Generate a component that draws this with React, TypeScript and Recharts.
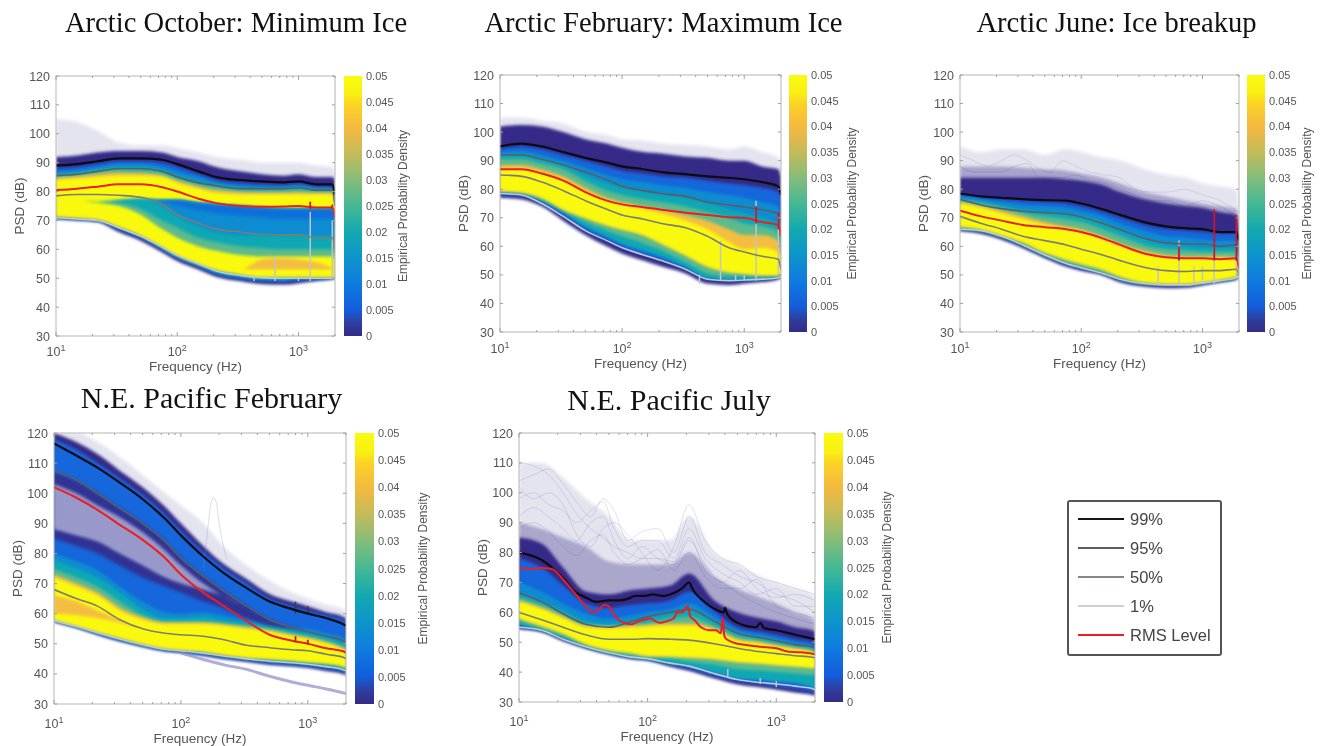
import React from 'react';
import { Area, Bar, BarChart, ComposedChart, Line, ReferenceLine, XAxis, YAxis } from 'recharts';

// shared axis data
const freqGrid = [10, 15, 22, 33, 50, 75, 100, 150, 210, 330, 500, 750, 1000, 1400, 1900, 2000];
const xTicks = [10, 20, 30, 40, 50, 60, 70, 80, 90, 100, 200, 300, 400, 500, 600, 700, 800, 900, 1000, 2000];
const decadeTicks = [10, 100, 1000];
const psdTicks = [30, 40, 50, 60, 70, 80, 90, 100, 110, 120];
const densityTicks = [0, 0.005, 0.01, 0.015, 0.02, 0.025, 0.03, 0.035, 0.04, 0.045, 0.05];
const legendLabels = ['99%', '95%', '50%', '1%', 'RMS Level'];
const legendColors = ['#151515', '#5a5d60', '#85888a', '#cfd0d0', '#ee1c25'];
const traceFreq = [10, 13, 17, 22, 28, 36, 45, 55, 70, 90, 120, 160, 210, 280, 380, 520, 700, 1000, 1400, 2000];

// Arctic October
const octSparseTop = [105, 104, 101, 97, 96, 96, 95, 93.5, 92, 91, 90, 90, 90, 89, 88.5, 87];
const octNavyTop = [92, 92.5, 93.5, 94, 94, 93.5, 92, 90.5, 88.5, 87, 86, 85.5, 86, 85, 85, 84];
const octBlueTop = [88, 88.5, 89.5, 90.5, 90.5, 90, 88.5, 86, 84, 83, 82.5, 82.3, 82.7, 81.7, 81.7, 78];
const octMidTop = [87, 87.5, 88.5, 89.5, 89.5, 88.5, 87, 85, 83.2, 82, 81.7, 81.7, 82, 81.2, 81, 77];
const octCyanTop = [86, 86.5, 87.5, 88.5, 88.5, 87.5, 85.5, 83.5, 82.3, 81.3, 81, 81, 81.3, 80.5, 80.5, 76];
const octGreenTop = [85.5, 86, 87, 87.5, 87.3, 86.5, 84.5, 82.5, 81.5, 80.5, 80.3, 80.3, 80.5, 80, 80, 75.5];
const octOrangeTop = [84.7, 85.2, 86, 86.5, 86.3, 85.5, 83.7, 81.7, 80.5, 79.8, 79.6, 79.6, 79.8, 79.5, 79.5, 75.2];
const octYellowTop = [84, 84.5, 85, 85.5, 85.5, 85, 83, 81, 79.5, 79, 79, 79, 79, 79, 79, 75];
const octNavyLow = [70.5, 70, 69.5, 66, 63, 59, 56, 53, 50.5, 49, 48, 47.8, 48.3, 49, 49.7, 50];
const octBlueLow = [71, 70.5, 70, 67, 64, 60, 57, 54, 51.5, 50, 49, 48.8, 49.2, 49.7, 50, 50];
const octTealLow = [71.2, 70.7, 70.2, 67.5, 64.5, 60.5, 57.5, 54.5, 52, 50.5, 49.7, 49.5, 50, 50, 50.2, 50.2];
const octYellowLow = [71.5, 71, 70.5, 68, 65, 61, 58, 55, 53, 51.5, 50.5, 50.5, 50.5, 50.5, 50.5, 50.2];
const octHoleTop = [77, 77, 76.5, 77, 77.5, 77, 77, 76, 75.5, 75, 74.5, 74, 74, 74, 74, 71];
const octGreenHoleLow = [77, 77, 76, 75, 72, 67, 64, 61, 59.5, 58, 57.5, 57.5, 57.5, 57.5, 57.5, 56];
const octCyanHoleLow = [77, 77, 76.5, 76, 74, 70, 67.5, 64, 62.5, 61, 60.5, 60, 60, 60, 60, 58];
const octMidHoleLow = [77, 77, 76.5, 77, 77.5, 75, 71.5, 68, 66, 65, 65, 65, 65, 64.5, 64.5, 62];
const octBlueHoleLow = [77, 77, 76.5, 77, 77.5, 76.5, 75, 73.5, 72.5, 71.5, 71, 70.5, 70.5, 70.5, 70.5, 67];
const octOrangeHoleLow = [53, 53, 53, 53, 53, 53, 53, 53, 53, 53, 53, 53, 53, 53, 53, 53];
const octOrangeHoleTop = [53, 53, 53, 53, 53, 53, 53, 53, 53, 53, 56.5, 57, 56.5, 55.5, 53.5, 53];
const oct99 = [89, 89.5, 90.5, 91.5, 91.5, 91, 89.5, 87, 85, 84, 83.5, 83.2, 83.5, 82.5, 82.5, 79];
const oct95 = [85.5, 86, 87, 88, 88, 87, 85, 83, 82, 81, 81, 81, 81.3, 80.5, 80.5, 75];
const oct50 = [78.5, 79, 79, 78.7, 78, 75.5, 72, 69, 67, 66, 65.2, 65, 65, 64, 64, 60];
const oct01 = [71, 70.5, 70, 67.5, 64.5, 60.8, 58, 55, 52.5, 51, 50.2, 50, 50, 50, 50, 50];
const octRms = [80.5, 81, 81.7, 82.5, 82.5, 81.5, 80, 77.5, 76, 75, 74.7, 74.8, 75, 74.5, 74.5, 71];
const octSpikeFreq = [430, 640, 1000, 1250, 1900];
const octSpikeLow = [49, 49, 49, 49, 50];
const octSpikeHigh = [51, 57, 51, 73, 70];
const octRedFreq = [1250, 1900];
const octRedLow = [74, 74];
const octRedHigh = [76.5, 75.5];

// Arctic February
const febSparseTop = [105, 105, 104, 103, 100, 99, 97.5, 97, 96, 95.5, 95, 94, 95, 93, 91, 88];
const febNavyTop = [102, 102.5, 102, 100, 97.5, 96, 94.5, 93, 92.5, 91.5, 91, 90, 90, 88, 87, 84];
const febBlueTop = [94, 95, 94, 92, 90, 88, 86.5, 85.5, 84.5, 84, 83, 82, 81.5, 80.5, 79, 76];
const febMidTop = [93, 93.5, 92, 90, 87.5, 85, 83.5, 82.5, 81.5, 80.5, 79, 78, 77, 75.5, 74, 70];
const febCyanTop = [92, 92, 90.5, 88.5, 85, 82, 80.5, 79, 78, 77, 75, 73, 71.5, 70, 68, 64];
const febGreenTop = [90.5, 90.5, 89, 87, 83, 79.5, 78, 76.5, 75.5, 74, 72, 70, 68, 67, 65, 61];
const febOrangeTop = [88.5, 88.5, 87, 84.5, 80.5, 77, 75.5, 74, 73, 71, 69, 66, 64, 64, 62, 58];
const febYellowTop = [87, 87, 85.5, 83, 79, 76, 74.5, 73, 71.5, 69, 66, 61.5, 59, 59.5, 58, 55];
const febNavyLow = [77, 76.5, 74, 69, 64, 60, 57.5, 55, 53, 50.5, 47, 46.5, 47, 47.5, 48.5, 49];
const febBlueLow = [78, 77.5, 75, 70.5, 65.5, 62, 59.5, 57, 55, 52, 48.5, 48, 48.2, 48.5, 49, 49.5];
const febTealLow = [79, 78.5, 76, 72, 67, 63.5, 61, 58.5, 56.5, 53, 49, 48.5, 48.5, 48.7, 49.2, 49.7];
const febGreenLow = [79.2, 78.7, 76.5, 72.5, 68.5, 65.5, 63.5, 61, 58.5, 54.5, 50.5, 49.5, 49.5, 49.5, 49.7, 49.8];
const febYellowLow = [79.5, 79, 77, 73, 70, 67.5, 66, 64, 61, 57, 53, 51, 50.5, 50, 50, 50];
const feb99 = [95, 96, 95, 93, 91, 89.3, 88, 87, 86, 85.3, 84.5, 84, 83.5, 82.5, 81, 78];
const feb95 = [92, 92, 90.5, 88.5, 86, 83.3, 81, 79.5, 78.5, 77.5, 75.5, 74.5, 73.8, 72.8, 71.3, 68];
const feb50 = [85, 84.5, 82.5, 79.5, 76, 73, 71, 69.5, 68, 66.5, 63.5, 59.5, 58, 56.5, 55.5, 52];
const feb01 = [78.5, 78, 75, 70.5, 65.5, 62, 59.5, 57, 55, 52, 48.5, 48, 48.2, 48.5, 49, 49.5];
const febRms = [87, 87, 85.5, 83, 79, 76, 74.7, 73.7, 72.8, 71.8, 71, 70.2, 70, 68.5, 67.5, 63.5];
const febSpikeFreq = [430, 640, 850, 1000, 1250, 1900];
const febSpikeLow = [47, 48, 48, 48, 48, 50];
const febSpikeHigh = [50, 62, 50, 50, 76, 72];
const febRedFreq = [1250, 1900];
const febRedLow = [68, 66];
const febRedHigh = [74, 72];

// Arctic June
const junSparseTop = [95, 93, 94, 94, 92, 94, 93, 91, 90, 87, 85, 84, 82, 81, 80, 74];
const junDenseTop = [88, 88, 88, 87.5, 87, 86.5, 85.5, 84, 82, 79, 77.5, 76, 75, 74, 73, 68];
const junNavyTop = [84, 84, 84, 84, 84, 83.5, 83, 81.5, 79, 76.5, 75, 74, 73.5, 72, 71, 66];
const junBlueTop = [78, 77, 76.5, 76, 75.5, 75, 74, 72, 70, 67.5, 66, 65.5, 65, 64.5, 64.5, 61];
const junMidTop = [77.5, 76.5, 75.5, 74.5, 74, 73.5, 72.5, 70.5, 68, 65.5, 63.5, 63, 62.5, 62, 62, 58.5];
const junCyanTop = [76.5, 75.8, 74.3, 72.8, 72, 71.3, 70.5, 68.5, 65.5, 62.5, 60.5, 60, 59.5, 59.5, 59.5, 55];
const junGreenTop = [76, 75, 73.5, 71.8, 70.5, 69.5, 68.5, 66, 63.5, 60.5, 59, 58.5, 58, 58, 58, 54];
const junOrangeTop = [75.5, 74, 72.5, 70.5, 68.5, 67, 66, 63.5, 61, 58.5, 57, 56.5, 56.5, 56.5, 56, 52.5];
const junYellowTop = [75, 73.5, 71.5, 69.5, 67.5, 66, 65, 62.5, 60, 57.5, 56, 55.5, 55.5, 55.5, 55.5, 52];
const junNavyLow = [65.5, 64.5, 62.5, 59.5, 56, 53, 51.5, 50, 47.5, 46, 45.5, 45.7, 46.5, 47.5, 48.5, 49.5];
const junBlueLow = [66, 65.3, 63.3, 60.3, 56.8, 53.8, 52.3, 50.5, 48.3, 46.8, 46.3, 46.3, 47, 47.8, 48.8, 49.5];
const junTealLow = [66.2, 65.5, 63.6, 60.6, 57, 54.2, 52.7, 50.8, 48.5, 47, 46.7, 46.7, 47.2, 48, 49, 49.5];
const junYellowLow = [67, 66, 64, 61.5, 58, 55.5, 54, 52, 49.5, 47.5, 47, 47, 47.5, 48.5, 49.5, 50];
const jun99 = [78.5, 77.5, 77, 76.5, 76.2, 76, 75, 73, 71, 68.5, 67, 66.3, 66, 65, 65, 62];
const jun95 = [76.5, 74.5, 73.2, 72.3, 71.8, 71.3, 70.3, 68, 65.8, 62.8, 61.2, 60.8, 60.8, 60, 60.5, 57];
const jun50 = [70.5, 68, 66, 63.5, 62, 60.5, 59, 57, 55, 52.7, 51.5, 51.2, 51.5, 51.5, 52, 50];
const jun01 = [66, 65.5, 63.5, 60.5, 57, 54, 52.5, 50.5, 48.5, 47, 46.5, 46.5, 47.2, 48, 49, 49.5];
const junRms = [72.5, 70.5, 69, 67.5, 66.7, 66, 65, 62.8, 60.5, 57.5, 56.2, 55.8, 55.8, 55.5, 55.8, 52];
const junSpikeFreq = [430, 640, 850, 1000, 1250, 1900];
const junSpikeLow = [47, 47, 47, 48, 47, 50];
const junSpikeHigh = [53, 62, 53, 53, 60, 62];
const junRedFreq = [640, 1250, 1900];
const junRedLow = [55, 55, 55];
const junRedHigh = [60, 73, 71];
const junTraceA = [92, 90, 88, 90, 92, 90, 87, 86, 90, 88, 86, 85, 84, 80, 79, 79, 80, 78, 76, 72];
const junTraceB = [88, 86, 86, 86, 88, 89, 84, 84, 84, 85, 83, 82, 80, 78, 76, 76, 74, 76, 74, 70];

// N.E. Pacific February
const pacFebSparseTop = [120, 120, 117, 112, 106, 100, 96, 90, 83, 76, 71, 67, 65, 63, 61.5, 60];
const pacFebNavyTop = [120, 117, 113, 107.5, 102, 95.5, 90, 82.5, 77, 71.5, 66.5, 64, 62.5, 60.5, 59, 58.5];
const pacFebBlueTop = [118, 114.5, 110, 105, 99.5, 93, 87.5, 80.5, 75.5, 70, 65, 62.5, 61, 59.5, 58, 57];
const pacFebMidTop = [80, 77.5, 74.5, 69, 64, 60.5, 60, 60.5, 59.5, 58, 57, 55.5, 55, 53.5, 52, 51];
const pacFebCyanTop = [78, 75, 72, 67, 61.5, 58.5, 58.5, 59, 58, 57, 56, 54.5, 53.5, 52, 50, 49.5];
const pacFebGreenTop = [75, 72, 69, 64, 59.5, 57.5, 57.5, 57.5, 57, 56, 55, 53.5, 52.5, 51, 49, 48.5];
const pacFebOrangeTop = [73, 70, 67, 62, 58.8, 57, 57, 57, 56.5, 55.5, 54.5, 53, 52, 50.5, 48.5, 48];
const pacFebYellowTop = [72, 69, 66, 61, 58, 56.5, 56.5, 56.5, 56, 55, 54, 52.5, 51.5, 50, 48, 47.5];
const pacFebNavyLow = [57.3, 55.3, 53, 50.8, 49, 47.5, 47, 46, 45, 44, 43, 42.5, 42, 41, 40, 39.5];
const pacFebBlueLow = [57.5, 55.5, 53.3, 51.2, 49.3, 47.8, 47.3, 46.4, 45.5, 44.5, 43.6, 43, 42.6, 41.7, 40.7, 40.2];
const pacFebTealLow = [57.7, 55.8, 53.7, 51.6, 49.7, 48.2, 47.7, 46.9, 46, 45, 44.2, 43.7, 43.2, 42.4, 41.4, 41];
const pacFebYellowLow = [58, 56, 54, 52, 50, 48.5, 48, 47.5, 46.5, 45.5, 45, 44.5, 44, 43.5, 42.5, 42];
const pacFebPatchLow = [85, 82.5, 80, 76, 72, 69, 67, 64, 62, 58.5, 56, 55, 54, 52.5, 51, 50.5];
const pacFebPatchTop = [107, 104, 100, 95, 90, 84, 78.5, 72.5, 68, 62.5, 58, 55.5, 54, 52.5, 51, 50.5];
const pacFebSpeckleLow = [88, 86, 84, 80, 76, 72, 70, 68, 66, 62, 58, 56, 54, 52.5, 51, 50.5];
const pacFebSpeckleTop = [103, 100, 96, 92, 87, 81, 76, 70, 66, 62, 58, 56, 54, 52.5, 51, 50.5];
const pacFebOrangePatchLow = [60, 59.5, 58.5, 57, 55, 55, 55, 55, 55, 55, 55, 55, 55, 55, 55, 55];
const pacFebOrangePatchTop = [66, 64, 61, 58, 55, 55, 55, 55, 55, 55, 55, 55, 55, 55, 55, 55];
const pacFeb99 = [116.5, 112.5, 108.5, 103.5, 98, 91.5, 86, 79, 74, 68.5, 64, 61.5, 60, 58.5, 56.5, 56];
const pacFeb95 = [107.5, 104.5, 100, 95, 90, 84, 78.5, 72.5, 68, 62.5, 58, 55.5, 54, 52.5, 51, 50.5];
const pacFeb50 = [68, 65, 62.5, 58, 55, 53.5, 53, 52.5, 51.5, 49.5, 48.7, 48, 47.7, 46.5, 45.5, 45];
const pacFeb01 = [57.7, 55.8, 53.7, 51.6, 49.7, 48.2, 47.7, 46.9, 46, 45, 44.2, 43.7, 43.2, 42.4, 41.4, 41];
const pacFebRms = [102, 98.5, 94.5, 89.5, 84.5, 78.5, 73, 67, 63, 57.5, 53, 51, 50, 48.5, 47.5, 47];
const pacFebTrailFreq = [100, 150, 220, 330, 500, 750, 1000, 1400, 2000];
const pacFebTrail = [47, 44.8, 43, 41.5, 39.2, 37.3, 36.2, 35, 33.5];
const pacFebArcFreq = [150, 160, 170, 180, 190, 200, 210, 230];
const pacFebArc = [75, 85, 95, 98.5, 97, 90, 85, 78];
const pacFebSpikeFreq = [800, 1000];
const pacFebSpikeLow = [60, 60];
const pacFebSpikeHigh = [64, 62.5];
const pacFebRedFreq = [800, 1000];
const pacFebRedLow = [50.5, 49.8];
const pacFebRedHigh = [52.5, 51.3];

// N.E. Pacific July
const pacJulSparseTop = [110, 110, 105, 98, 92, 84, 84, 84, 92, 80, 76, 72, 70, 68, 66, 65];
const pacJulDenseTop = [90, 88, 85, 82, 77, 76, 76, 76, 80, 72, 68, 65, 63, 60, 58, 57];
const pacJulNavyTop = [85, 83, 75, 67, 66, 67.5, 68, 69, 73, 64, 60, 58, 57, 55, 54, 53.5];
const pacJulBlueTop = [78, 75, 69, 63, 61.5, 62.5, 63, 64, 67, 60.5, 55, 53.5, 52.5, 51, 50, 49.5];
const pacJulMidTop = [70, 67, 63, 59.5, 58, 59, 60, 61, 63, 58.5, 54, 52.5, 51.5, 50, 49, 48.5];
const pacJulCyanTop = [66, 63.5, 60.5, 57, 56, 57, 58, 59.5, 61, 57, 53, 51.5, 50.5, 49, 48, 47.5];
const pacJulGreenTop = [65, 62.5, 59.5, 56, 55.5, 56, 56.5, 58, 58.5, 55.5, 52, 50.5, 49.5, 48.2, 47.5, 47];
const pacJulOrangeTop = [64, 61.5, 58.5, 55.5, 55, 55.5, 55.8, 56.3, 56.3, 54.7, 51, 50, 49, 48, 47, 46.5];
const pacJulYellowTop = [63.5, 61, 58, 55, 54.5, 55, 55.3, 55.5, 55.5, 54, 50.5, 49.5, 48.5, 47.5, 46.5, 46];
const pacJulNavyLow = [54.5, 53.5, 50.5, 48, 46, 44.5, 44, 42, 40.5, 38, 36, 35, 34.3, 33.3, 32.5, 32];
const pacJulBlueLow = [54.8, 53.8, 51, 48.4, 46.3, 44.8, 44.2, 42.6, 41.3, 38.8, 37, 36, 35.2, 34.4, 33.5, 33];
const pacJulTealLow = [56, 54, 51.5, 48.5, 46.5, 45, 44.5, 43, 42, 40, 38, 37.5, 37, 36.5, 35, 34.5];
const pacJulGreenLow = [57, 54.5, 52, 49, 47, 45.5, 45, 44.5, 43.5, 42.5, 41, 40.5, 40, 39.5, 39, 39];
const pacJulYellowLow = [58, 55.5, 53, 49.5, 47.5, 46.5, 45.5, 45.3, 45, 44.5, 43.5, 43, 42.5, 42, 41.5, 41.2];
const pacJul99Freq = [10, 15, 18, 22, 27, 33, 40, 50, 60, 70, 80, 95, 110, 130, 160, 185, 210, 225, 260, 320, 390, 400, 415, 500, 700, 750, 800, 1000, 1400, 2000];
const pacJul99 = [80, 77.5, 75, 71.5, 67, 65, 63.5, 64, 64, 64.5, 65.5, 65.5, 66, 65.5, 66.5, 68, 70, 67.5, 64.5, 61.5, 60, 61.5, 59.5, 56.5, 55, 56.5, 54.8, 54, 52.5, 51];
const pacJul95 = [66.5, 63.5, 59.5, 56, 55, 57, 58.5, 60, 61, 57, 53, 51.5, 50.5, 49.2, 48.5, 48];
const pacJul50 = [60, 57.5, 55, 52.5, 51, 51, 51.2, 51, 50.7, 49.5, 48, 46.8, 46.2, 45.5, 45, 44.8];
const pacJul01 = [55, 54, 51, 48.5, 46.5, 45, 44.5, 43, 42, 39.5, 37.5, 36.5, 36, 35.3, 34.5, 34];
const pacJulRmsFreq = [10, 12, 15, 18, 22, 27, 33, 37, 42, 46, 50, 55, 62, 75, 85, 95, 105, 115, 125, 140, 160, 170, 185, 205, 215, 230, 260, 300, 340, 370, 385, 392, 400, 430, 500, 600, 750, 1000, 1200, 1400, 1700, 2000];
const pacJulRms = [75, 74.5, 74.8, 74.5, 71, 66.5, 62, 60, 61, 62.5, 62, 59, 57, 56, 57, 57.5, 58, 57, 56.5, 57, 58, 60, 60, 62, 58.5, 57.5, 55, 54, 54, 53, 58, 53, 51.5, 50.5, 49.5, 49, 48.5, 48, 47, 46.7, 46.5, 46];
const pacJulSpikeFreq = [420, 750, 1000];
const pacJulSpikeLow = [38, 36, 35];
const pacJulSpikeHigh = [41, 38, 37];
const pacJulTraceA = [110, 109, 106, 100, 93, 88, 85, 82, 80, 78, 78, 77, 85, 74, 70, 66, 63, 60, 58, 56];
const pacJulTraceB = [104, 106, 108, 103, 97, 92, 98, 94, 84, 87, 88, 80, 92, 80, 76, 72, 70, 66, 64, 60];
const pacJulTraceC = [98, 100, 96, 94, 90, 94, 97, 88, 82, 84, 84, 78, 88, 78, 73, 70, 66, 68, 62, 62];
const pacJulTraceD = [92, 95, 92, 88, 84, 90, 92, 84, 78, 82, 78, 76, 84, 76, 70, 74, 68, 65, 66, 64];
const pacJulTraceE = [88, 90, 87, 82, 79, 84, 86, 80, 76, 78, 81, 74, 80, 72, 68, 68, 71, 62, 60, 58];
const pacJulTraceF = [102, 98, 100, 96, 86, 82, 88, 90, 86, 80, 74, 82, 96, 84, 78, 76, 72, 70, 68, 66];

const NAVY = '#352a87';
const BLUE = '#1366dc';
const MID = '#0d8cd2';
const CYAN = '#10a8b4';
const GREEN = '#5cba8c';
const ORANGE = '#f4bd42';
const YELLOW = '#f9f90e';

type Band = { lo: number[]; hi: number[]; fill: string; opacity?: number };

const rows = (freq: number[], values: number[]) => freq.map((f, i) => ({ f, v: values[i] }));
const rangeRows = (lo: number[], hi: number[]) => freqGrid.map((f, i) => ({ f, v: [lo[i], hi[i]] }));

// nested colour bands, painted from the outer envelope inwards
const stack = (
  sparse: number[], navy: number[], blue: number[], mid: number[], cyan: number[], green: number[], orange: number[], yellow: number[],
  navyLow: number[], blueLow: number[], tealLow: number[], greenLow: number[], yellowLow: number[],
): Band[] => [
  { lo: navyLow, hi: sparse, fill: NAVY, opacity: 0.13 },
  { lo: navyLow, hi: navy, fill: NAVY },
  { lo: blueLow, hi: blue, fill: BLUE },
  { lo: tealLow, hi: mid, fill: MID },
  { lo: tealLow, hi: cyan, fill: CYAN },
  { lo: greenLow, hi: green, fill: GREEN },
  { lo: yellowLow, hi: orange, fill: ORANGE },
  { lo: yellowLow, hi: yellow, fill: YELLOW },
];

const panels = [
  {
    title: 'Arctic October: Minimum Ice', titleX: 236, titleY: 23, titleSize: 28.6, tickDy: 20,
    left: 56, right: 335, top: 76, bottom: 336, cbLeft: 344, cbRight: 362, xLabelDy: 30, cbLabelDx: 59,
    bands: [
      ...stack(octSparseTop, octNavyTop, octBlueTop, octMidTop, octCyanTop, octGreenTop, octOrangeTop, octYellowTop, octNavyLow, octBlueLow, octTealLow, octYellowLow, octYellowLow),
      { lo: octGreenHoleLow, hi: octHoleTop, fill: GREEN },
      { lo: octCyanHoleLow, hi: octHoleTop, fill: CYAN },
      { lo: octMidHoleLow, hi: octHoleTop, fill: MID },
      { lo: octBlueHoleLow, hi: octHoleTop, fill: BLUE, opacity: 0.75 },
      { lo: octOrangeHoleLow, hi: octOrangeHoleTop, fill: ORANGE },
    ] as Band[],
    p99: rows(freqGrid, oct99), p95: rows(freqGrid, oct95), p50: rows(freqGrid, oct50), p01: rows(freqGrid, oct01), rms: rows(freqGrid, octRms),
    spikes: { freq: octSpikeFreq, low: octSpikeLow, high: octSpikeHigh }, red: { freq: octRedFreq, low: octRedLow, high: octRedHigh },
    traces: [],
  },
  {
    title: 'Arctic February: Maximum Ice', titleX: 663.5, titleY: 23, titleSize: 28.6, tickDy: 21,
    left: 500, right: 781, top: 75, bottom: 332, cbLeft: 789, cbRight: 807, xLabelDy: 31, cbLabelDx: 63,
    bands: stack(febSparseTop, febNavyTop, febBlueTop, febMidTop, febCyanTop, febGreenTop, febOrangeTop, febYellowTop, febNavyLow, febBlueLow, febTealLow, febGreenLow, febYellowLow),
    p99: rows(freqGrid, feb99), p95: rows(freqGrid, feb95), p50: rows(freqGrid, feb50), p01: rows(freqGrid, feb01), rms: rows(freqGrid, febRms),
    spikes: { freq: febSpikeFreq, low: febSpikeLow, high: febSpikeHigh }, red: { freq: febRedFreq, low: febRedLow, high: febRedHigh },
    traces: [],
  },
  {
    title: 'Arctic June: Ice breakup', titleX: 1116.5, titleY: 23, titleSize: 28.6, tickDy: 21,
    left: 960, right: 1239, top: 75, bottom: 332, cbLeft: 1247, cbRight: 1265, xLabelDy: 31, cbLabelDx: 60,
    bands: [
      { lo: junNavyLow, hi: junDenseTop, fill: NAVY, opacity: 0.35 },
      ...stack(junSparseTop, junNavyTop, junBlueTop, junMidTop, junCyanTop, junGreenTop, junOrangeTop, junYellowTop, junNavyLow, junBlueLow, junTealLow, junTealLow, junYellowLow),
    ] as Band[],
    p99: rows(freqGrid, jun99), p95: rows(freqGrid, jun95), p50: rows(freqGrid, jun50), p01: rows(freqGrid, jun01), rms: rows(freqGrid, junRms),
    spikes: { freq: junSpikeFreq, low: junSpikeLow, high: junSpikeHigh }, red: { freq: junRedFreq, low: junRedLow, high: junRedHigh },
    traces: [
      { data: rows(traceFreq, junTraceA), stroke: NAVY, opacity: 0.12, width: 1 },
      { data: rows(traceFreq, junTraceB), stroke: NAVY, opacity: 0.15, width: 1 },
    ],
  },
  {
    title: 'N.E. Pacific February', titleX: 211.5, titleY: 398, titleSize: 30, tickDy: 24,
    left: 54, right: 346, top: 433, bottom: 704, cbLeft: 355, cbRight: 374, xLabelDy: 34, cbLabelDx: 68,
    bands: [
      ...stack(pacFebSparseTop, pacFebNavyTop, pacFebBlueTop, pacFebMidTop, pacFebCyanTop, pacFebGreenTop, pacFebOrangeTop, pacFebYellowTop, pacFebNavyLow, pacFebBlueLow, pacFebTealLow, pacFebYellowLow, pacFebYellowLow),
      { lo: pacFebPatchLow, hi: pacFebPatchTop, fill: NAVY, opacity: 0.85 },
      { lo: pacFebSpeckleLow, hi: pacFebSpeckleTop, fill: '#ffffff', opacity: 0.5 },
      { lo: pacFebOrangePatchLow, hi: pacFebOrangePatchTop, fill: ORANGE },
    ] as Band[],
    p99: rows(freqGrid, pacFeb99), p95: rows(freqGrid, pacFeb95), p50: rows(freqGrid, pacFeb50), p01: rows(freqGrid, pacFeb01), rms: rows(freqGrid, pacFebRms),
    spikes: { freq: pacFebSpikeFreq, low: pacFebSpikeLow, high: pacFebSpikeHigh }, red: { freq: pacFebRedFreq, low: pacFebRedLow, high: pacFebRedHigh },
    traces: [
      { data: rows(pacFebTrailFreq, pacFebTrail), stroke: '#8f8ac8', opacity: 0.7, width: 3 },
      { data: rows(pacFebArcFreq, pacFebArc), stroke: '#8f8ac8', opacity: 0.3, width: 1 },
    ],
  },
  {
    title: 'N.E. Pacific July', titleX: 669, titleY: 400, titleSize: 30, tickDy: 24,
    left: 519, right: 815, top: 433, bottom: 702, cbLeft: 824, cbRight: 843, xLabelDy: 34, cbLabelDx: 63,
    bands: [
      { lo: pacJulNavyLow, hi: pacJulDenseTop, fill: NAVY, opacity: 0.33 },
      ...stack(pacJulSparseTop, pacJulNavyTop, pacJulBlueTop, pacJulMidTop, pacJulCyanTop, pacJulGreenTop, pacJulOrangeTop, pacJulYellowTop, pacJulNavyLow, pacJulBlueLow, pacJulTealLow, pacJulGreenLow, pacJulYellowLow),
    ] as Band[],
    p99: rows(pacJul99Freq, pacJul99), p95: rows(freqGrid, pacJul95), p50: rows(freqGrid, pacJul50), p01: rows(freqGrid, pacJul01), rms: rows(pacJulRmsFreq, pacJulRms),
    spikes: { freq: pacJulSpikeFreq, low: pacJulSpikeLow, high: pacJulSpikeHigh }, red: { freq: [], low: [], high: [] },
    traces: [pacJulTraceA, pacJulTraceB, pacJulTraceC, pacJulTraceD, pacJulTraceE, pacJulTraceF].map((t) => ({
      data: rows(traceFreq, t), stroke: NAVY, opacity: 0.14, width: 1,
    })),
  },
];

const AXIS_COLOR = '#b5b5b5';
const TEXT_COLOR = '#555555';
const FONT = '"Liberation Sans", Arial, sans-serif';
const CHART_LEFT = 60;
const CHART_TOP = 10;
const CHART_RIGHT = 6;

const XTick = ({ x, y, payload, labelDy }: any) => {
  const exp = decadeTicks.indexOf(payload.value) + 1;
  const size = exp ? 4 : 2;
  return (
    <g>
      <line x1={x} x2={x} y1={y} y2={y - size} stroke="#a0a0a0" />
      {exp > 0 && (
        <text x={x} y={y + labelDy} textAnchor="middle" fontSize={12.5} fill={TEXT_COLOR} fontFamily={FONT}>
          10<tspan dy={-5} fontSize={9}>{exp}</tspan>
        </text>
      )}
    </g>
  );
};

const YTick = ({ x, y, payload }: any) => (
  <g>
    <line x1={x} x2={x + 3} y1={y} y2={y} stroke="#a0a0a0" />
    <text x={x - 6} y={y + 4.5} textAnchor="end" fontSize={12.5} fill={TEXT_COLOR} fontFamily={FONT}>
      {payload.value}
    </text>
  </g>
);

const TopTick = ({ x, y, payload }: any) => (
  <line x1={x} x2={x} y1={y} y2={y + (decadeTicks.includes(payload.value) ? 4 : 2)} stroke="#a0a0a0" />
);
const RightTick = ({ x, y }: any) => <line x1={x} x2={x - 3} y1={y} y2={y} stroke="#a0a0a0" />;

const DensityTick = ({ x, y, payload }: any) => (
  <text x={x + 4} y={y + 4} fontSize={11} fill={TEXT_COLOR} fontFamily={FONT}>
    {payload.value}
  </text>
);

const Panel = ({ panel, id }: { panel: (typeof panels)[number]; id: number }) => {
  const plotW = panel.right - panel.left;
  const plotH = panel.bottom - panel.top;
  const cbW = panel.cbRight - panel.cbLeft;
  const filterId = `soft-${id}`;
  const gradId = `parula-${id}`;
  const lineProps = { dataKey: 'v', dot: false, isAnimationActive: false, type: 'monotone' as const, legendType: 'none' as const };
  return (
    <>
      <div
        style={{
          position: 'absolute', left: panel.titleX, top: panel.titleY, transform: 'translate(-50%, -50%)',
          fontFamily: '"Liberation Serif", serif', fontSize: panel.titleSize, color: '#111', whiteSpace: 'nowrap',
        }}
      >
        {panel.title}
      </div>
      <div style={{ position: 'absolute', left: panel.left - CHART_LEFT, top: panel.top - CHART_TOP }}>
        <ComposedChart
          width={plotW + CHART_LEFT + CHART_RIGHT}
          height={plotH + CHART_TOP + 45}
          margin={{ top: CHART_TOP - 1, right: CHART_RIGHT - 1, left: 0, bottom: 0 }}
        >
          <defs>
            <filter id={filterId} x="-5%" y="-10%" width="110%" height="120%">
              <feGaussianBlur stdDeviation="1.4" />
            </filter>
          </defs>
          <XAxis
            dataKey="f" type="number" scale="log" domain={[10, 2000]} ticks={xTicks} interval={0} allowDataOverflow
            height={45} tickLine={false} tickSize={0} tickMargin={0} stroke={AXIS_COLOR}
            tick={(p: any) => <XTick {...p} labelDy={panel.tickDy} />}
          />
          <XAxis
            xAxisId="top" orientation="top" dataKey="f" type="number" scale="log" domain={[10, 2000]} ticks={xTicks} interval={0} allowDataOverflow
            height={1} tickLine={false} tickSize={0} tickMargin={0} tick={TopTick} stroke={AXIS_COLOR}
          />
          <YAxis
            type="number" domain={[30, 120]} ticks={psdTicks} interval={0} allowDataOverflow
            width={CHART_LEFT} tickLine={false} tickSize={0} tickMargin={0} tick={YTick} stroke={AXIS_COLOR}
          />
          <YAxis
            yAxisId="right" orientation="right" type="number" domain={[30, 120]} ticks={psdTicks} interval={0} allowDataOverflow
            width={1} tickLine={false} tickSize={0} tickMargin={0} tick={RightTick} stroke={AXIS_COLOR}
          />
          {panel.bands.map((band, i) => (
            <Area
              key={`band-${i}`}
              data={rangeRows(band.lo, band.hi)}
              dataKey="v"
              type="monotone"
              stroke="none"
              fill={band.fill}
              fillOpacity={band.opacity ?? 1}
              filter={`url(#${filterId})`}
              dot={false}
              isAnimationActive={false}
            />
          ))}
          {panel.traces.map((trace: any, i: number) => (
            <Line key={`trace-${i}`} {...lineProps} data={trace.data} stroke={trace.stroke} strokeOpacity={trace.opacity} strokeWidth={trace.width} />
          ))}
          {panel.spikes.freq.map((f, i) => (
            <ReferenceLine
              key={`spike-${i}`}
              segment={[{ x: f, y: panel.spikes.low[i] }, { x: f, y: panel.spikes.high[i] }]}
              stroke={id === 3 ? '#39393f' : '#c4c4c4'}
              strokeWidth={1.5}
            />
          ))}
          <Line {...lineProps} data={panel.p01} stroke="#c3c8cc" strokeWidth={1.6} />
          <Line {...lineProps} data={panel.p50} stroke="#7d7d74" strokeWidth={1.6} />
          <Line {...lineProps} data={panel.p95} stroke="#5c5f60" strokeWidth={1.6} />
          <Line {...lineProps} data={panel.p99} stroke="#0c0c14" strokeWidth={2.2} />
          <Line {...lineProps} data={panel.rms} stroke="#e81f25" strokeWidth={2} />
          {panel.red.freq.map((f, i) => (
            <ReferenceLine
              key={`red-${i}`}
              segment={[{ x: f, y: panel.red.low[i] }, { x: f, y: panel.red.high[i] }]}
              stroke="#c8162c"
              strokeWidth={1.8}
            />
          ))}
          <text
            x={CHART_LEFT + plotW / 2} y={CHART_TOP + plotH + panel.xLabelDy + 4.5}
            textAnchor="middle" fontSize={13.5} fill={TEXT_COLOR} fontFamily={FONT}
          >
            Frequency (Hz)
          </text>
          <text
            transform={`translate(${CHART_LEFT - 37}, ${CHART_TOP + plotH / 2}) rotate(-90)`} y={4.5}
            textAnchor="middle" fontSize={13.5} fill={TEXT_COLOR} fontFamily={FONT}
          >
            PSD (dB)
          </text>
        </ComposedChart>
      </div>
      <div style={{ position: 'absolute', left: panel.cbLeft, top: panel.top - CHART_TOP }}>
        <BarChart
          width={cbW + 72}
          height={plotH + CHART_TOP * 2}
          data={[{ name: 'density', v: 0.05 }]}
          margin={{ top: CHART_TOP, right: 0, left: 0, bottom: CHART_TOP }}
          barCategoryGap={0}
        >
          <defs>
            <linearGradient id={gradId} x1="0" y1="0" x2="0" y2="1">
              <stop offset="0" stopColor="#f9fb0e" />
              <stop offset="0.07" stopColor="#f9f012" />
              <stop offset="0.11" stopColor="#fbd324" />
              <stop offset="0.2" stopColor="#f5b93f" />
              <stop offset="0.3" stopColor="#c4bb5a" />
              <stop offset="0.4" stopColor="#84bc7a" />
              <stop offset="0.5" stopColor="#45b894" />
              <stop offset="0.6" stopColor="#13a9b0" />
              <stop offset="0.7" stopColor="#0e94cb" />
              <stop offset="0.8" stopColor="#0f7be0" />
              <stop offset="0.9" stopColor="#135ddc" />
              <stop offset="0.95" stopColor="#2e3f9f" />
              <stop offset="1" stopColor="#352a87" />
            </linearGradient>
          </defs>
          <XAxis dataKey="name" hide />
          <YAxis
            orientation="right" type="number" domain={[0, 0.05]} ticks={densityTicks} interval={0}
            width={72} axisLine={false} tickLine={false} tickSize={0} tickMargin={0} tick={DensityTick}
          />
          <Bar dataKey="v" fill={`url(#${gradId})`} isAnimationActive={false} />
          <text
            transform={`translate(${panel.cbLabelDx}, ${CHART_TOP + plotH / 2}) rotate(-90)`} y={4}
            textAnchor="middle" fontSize={12} fill={TEXT_COLOR} fontFamily={FONT}
          >
            Empirical Probability Density
          </text>
        </BarChart>
      </div>
    </>
  );
};

const LegendBox = () => (
  <div
    style={{
      position: 'absolute', left: 1067, top: 500, width: 151, height: 152, border: '2px solid #555',
      borderRadius: 3, background: '#fff',
    }}
  >
    {legendLabels.map((label, i) => (
      <div
        key={label}
        style={{
          position: 'absolute', left: 9, top: 17 + i * 29 - 10, height: 20, display: 'flex', alignItems: 'center',
          fontFamily: FONT, fontSize: 16.5, color: '#444', whiteSpace: 'nowrap',
        }}
      >
        <span style={{ display: 'inline-block', width: 46, height: 2.5, background: legendColors[i], marginRight: 6 }} />
        {label}
      </div>
    ))}
  </div>
);

export default function App() {
  return (
    <div style={{ position: 'absolute', left: 0, top: 0, width: 1324, height: 746, overflow: 'hidden', filter: 'blur(0.7px)' }}>
      {panels.map((panel, i) => (
        <Panel key={panel.title} panel={panel} id={i} />
      ))}
      <LegendBox />
    </div>
  );
}
